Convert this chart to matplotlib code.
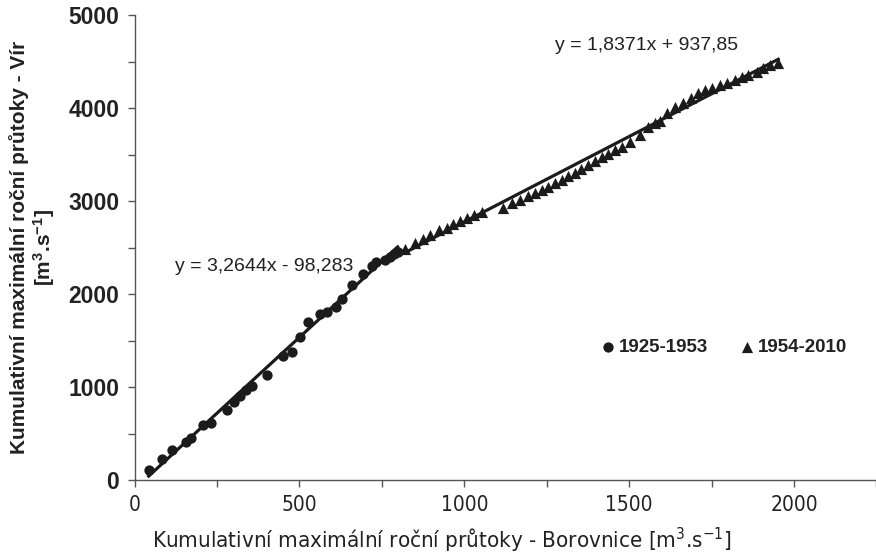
#!/usr/bin/env python3
# coding: utf-8
import matplotlib
matplotlib.use("Agg")
import matplotlib.pyplot as plt
import numpy as np
from matplotlib.ticker import MultipleLocator

# 1925-1953, cumulative annual maxima (Borovnice vs. Vir)
circ_x = [43, 82, 115, 155, 170, 209, 233, 281, 301, 319, 337, 355, 401, 451, 477,
          501, 525, 564, 585, 610, 630, 660, 694, 719, 732, 760, 775, 787, 798]
circ_y = [108, 224, 318, 408, 451, 588, 610, 751, 838, 902, 964, 1011, 1130, 1328, 1379,
          1541, 1704, 1780, 1805, 1859, 1946, 2094, 2220, 2296, 2339, 2365, 2400, 2433, 2455]

# 1954-2010
tri_x = [820, 850, 876, 896, 924, 947, 967, 987, 1007, 1029, 1053, 1116, 1144, 1169, 1194,
         1214, 1235, 1255, 1275, 1295, 1315, 1335, 1355, 1375, 1395, 1417, 1437, 1457, 1477,
         1502, 1533, 1558, 1578, 1593, 1614, 1639, 1664, 1689, 1709, 1730, 1750, 1775, 1796,
         1821, 1841, 1861, 1887, 1907, 1927, 1952]
tri_y = [2480, 2550, 2595, 2630, 2685, 2710, 2750, 2780, 2815, 2850, 2885, 2925, 2975, 3015, 3050,
         3085, 3120, 3155, 3195, 3230, 3270, 3305, 3345, 3385, 3430, 3475, 3510, 3545, 3585,
         3630, 3715, 3800, 3840, 3860, 3945, 4015, 4050, 4105, 4160, 4190, 4210, 4245, 4265,
         4300, 4335, 4355, 4390, 4425, 4460, 4480]

# linear trends (as printed on the chart)
fit1 = (3.2644, -98.283)
fit2 = (1.8371, 937.85)

ink = "#1b1b1b"
txt = "#222222"
axis_col = "#555555"
plt.rcParams['mathtext.default'] = 'regular'
# condensed face for the x axis (Arial Narrow look)
narrow = dict(family='DejaVu Sans', stretch='condensed')

fig = plt.figure(figsize=(8.76, 5.55), dpi=100)
ax = fig.add_axes([134.5 / 876, 75 / 555, 742 / 876, 465 / 555])

ax.scatter(circ_x, circ_y, s=55, marker='o', color=ink, linewidths=0, zorder=3, label='1925-1953')
ax.scatter(tri_x, tri_y, s=65, marker='^', color=ink, linewidths=0, zorder=3, label='1954-2010')

xs = np.array([min(circ_x), max(circ_x)])
ax.plot(xs, fit1[0] * xs + fit1[1], color=ink, lw=2.3, zorder=4)
xs = np.array([min(tri_x), max(tri_x)])
ax.plot(xs, fit2[0] * xs + fit2[1], color=ink, lw=2.3, zorder=4)

ax.set_xlim(0, 2250)
ax.set_ylim(0, 5000)
ax.xaxis.set_major_locator(MultipleLocator(500))
ax.xaxis.set_minor_locator(MultipleLocator(250))
ax.yaxis.set_major_locator(MultipleLocator(1000))
ax.yaxis.set_minor_locator(MultipleLocator(500))

for s in ['top', 'right']:
    ax.spines[s].set_visible(False)
for s in ['left', 'bottom']:
    ax.spines[s].set_color(axis_col)
    ax.spines[s].set_linewidth(1.0)

ax.tick_params(which='both', direction='out', length=5, width=1, color=axis_col)
ax.tick_params(axis='y', pad=6)
ax.tick_params(axis='x', pad=6)
for t in ax.get_yticklabels():
    t.set_fontfamily('Liberation Sans')
    t.set_fontweight('bold')
    t.set_fontsize(16.5)
    t.set_color(txt)
for t in ax.get_xticklabels():
    t.set_fontfamily(narrow['family'])
    t.set_fontstretch(narrow['stretch'])
    t.set_fontsize(15)
    t.set_color(txt)

fig.text(442 / 876, 1 - 548 / 555,
         'Kumulativní maximální roční průtoky - Borovnice [m$^3$.s$^{-1}$]',
         ha='center', va='baseline', fontsize=16, color=txt, **narrow)
fig.text(33 / 876, 1 - 247 / 555,
         'Kumulativní maximální roční průtoky - Vír\n[m$^3$.s$^{-1}$]',
         rotation=90, ha='center', va='center', multialignment='center',
         family='Liberation Sans', fontweight='bold', fontsize=15, color=txt,
         linespacing=1.15)

ax.text(393, 2301, 'y = 3,2644x - 98,283', ha='center', va='center',
        family='Liberation Sans', fontsize=14, color=txt)
ax.text(1554, 4667, 'y = 1,8371x + 937,85', ha='center', va='center',
        family='Liberation Sans', fontsize=14, color=txt)

leg = ax.legend(loc='center', bbox_to_anchor=(0.793, 0.286), ncol=2, frameon=False,
                handletextpad=0.05, columnspacing=1.6, handlelength=1.0,
                prop={'family': 'Liberation Sans', 'weight': 'bold', 'size': 13.5})
for t in leg.get_texts():
    t.set_color(txt)

fig.savefig('out.png', dpi=100)
